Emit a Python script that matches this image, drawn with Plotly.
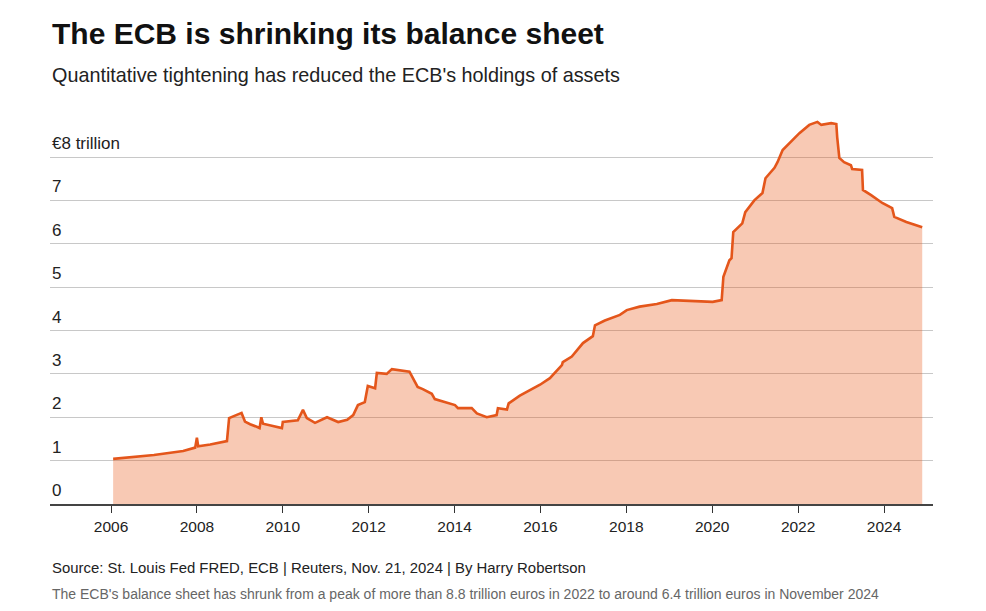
import plotly.graph_objects as go

# ECB balance sheet, € trillion (decimal years)
years = [2006.05, 2006.44, 2007.00, 2007.68, 2007.91, 2007.96, 2008.00, 2008.03, 2008.31, 2008.70,
         2008.75, 2008.93, 2009.04, 2009.12, 2009.24, 2009.42, 2009.46, 2009.50, 2009.54, 2009.77,
         2009.98, 2010.00, 2010.35, 2010.47, 2010.56, 2010.75, 2011.03, 2011.29, 2011.50, 2011.64,
         2011.75, 2011.91, 2011.98, 2012.15, 2012.19, 2012.42, 2012.54, 2012.95, 2013.02, 2013.14,
         2013.26, 2013.47, 2013.54, 2014.01, 2014.08, 2014.40, 2014.52, 2014.75, 2014.98, 2015.01,
         2015.22, 2015.26, 2015.52, 2015.99, 2016.22, 2016.50, 2016.52, 2016.73, 2016.99, 2017.22,
         2017.27, 2017.50, 2017.85, 2018.01, 2018.31, 2018.71, 2019.06, 2019.71, 2020.01, 2020.22,
         2020.26, 2020.40, 2020.45, 2020.49, 2020.70, 2020.77, 2020.98, 2021.17, 2021.24, 2021.45,
         2021.52, 2021.64, 2022.03, 2022.26, 2022.45, 2022.54, 2022.77, 2022.89, 2022.91, 2022.96,
         2023.07, 2023.23, 2023.26, 2023.49, 2023.51, 2023.70, 2023.89, 2023.96, 2024.19, 2024.24,
         2024.52, 2024.75, 2024.89]
assets = [1.04, 1.07, 1.13, 1.22, 1.28, 1.30, 1.53, 1.33, 1.37, 1.45,
          1.98, 2.05, 2.10, 1.90, 1.84, 1.77, 1.75, 2.00, 1.85, 1.80,
          1.75, 1.89, 1.93, 2.17, 1.98, 1.87, 2.00, 1.89, 1.94, 2.05,
          2.28, 2.35, 2.72, 2.67, 3.02, 3.00, 3.11, 3.05, 2.93, 2.70,
          2.65, 2.54, 2.42, 2.28, 2.21, 2.21, 2.09, 2.00, 2.05, 2.21,
          2.18, 2.32, 2.50, 2.75, 2.90, 3.20, 3.27, 3.40, 3.71, 3.87,
          4.12, 4.23, 4.36, 4.47, 4.55, 4.61, 4.70, 4.68, 4.66, 4.70,
          5.24, 5.62, 5.67, 6.27, 6.47, 6.73, 7.00, 7.17, 7.51, 7.75,
          7.88, 8.16, 8.55, 8.74, 8.81, 8.74, 8.78, 8.76, 8.46, 7.98,
          7.88, 7.81, 7.72, 7.70, 7.24, 7.12, 7.00, 6.94, 6.82, 6.62,
          6.50, 6.43, 6.38]

x_ticks = [2006, 2008, 2010, 2012, 2014, 2016, 2018, 2020, 2022, 2024]
y_ticks = [0, 1, 2, 3, 4, 5, 6, 7, 8]
y_tick_labels = ["0", "1", "2", "3", "4", "5", "6", "7", "€8 trillion"]

title = "The ECB is shrinking its balance sheet"
subtitle = "Quantitative tightening has reduced the ECB's holdings of assets"
source = "Source: St. Louis Fed FRED, ECB | Reuters, Nov. 21, 2024 | By Harry Robertson"
note = ("The ECB's balance sheet has shrunk from a peak of more than 8.8 trillion euros in 2022 "
        "to around 6.4 trillion euros in November 2024")

W, H = 986, 611
PLOT_TOP, PLOT_BOTTOM = 110, 504
PLOT_LEFT, PLOT_RIGHT = 50, 933
PX_PER_UNIT = 43.375
PX_PER_YEAR = 42.94


def paper_y(py):
    return (PLOT_BOTTOM - py) / (PLOT_BOTTOM - PLOT_TOP)


FONT = "Liberation Sans, Arial, Helvetica, sans-serif"

fig = go.Figure()
fig.add_trace(go.Scatter(
    x=years, y=assets, mode="lines",
    line=dict(color="#e4561b", width=2.6, shape="linear"),
    fill="tozeroy", fillcolor="rgba(232,88,22,0.32)",
    hoverinfo="x+y", showlegend=False,
))

annotations = []
for v, lab in zip(y_ticks, y_tick_labels):
    annotations.append(dict(
        x=0, xref="paper", y=v, yref="y", text=lab, showarrow=False,
        xanchor="left", yanchor="bottom", yshift=2,
        font=dict(family=FONT, size=17, color="#222222"),
    ))

annotations += [
    dict(x=0, xref="paper", y=paper_y(33), yref="paper", text="<b>" + title + "</b>",
         showarrow=False, xanchor="left", yanchor="middle",
         font=dict(family=FONT, size=30, color="#111111")),
    dict(x=0, xref="paper", y=paper_y(75), yref="paper", text=subtitle,
         showarrow=False, xanchor="left", yanchor="middle",
         font=dict(family=FONT, size=19.8, color="#222222")),
    dict(x=0, xref="paper", y=paper_y(568), yref="paper", text=source,
         showarrow=False, xanchor="left", yanchor="middle",
         font=dict(family=FONT, size=14.9, color="#222222")),
    dict(x=0, xref="paper", y=paper_y(594), yref="paper", text=note,
         showarrow=False, xanchor="left", yanchor="middle",
         font=dict(family=FONT, size=14, color="#666666")),
]

x_left = 2006 - (111 - PLOT_LEFT) / PX_PER_YEAR
x_right = 2024 + (PLOT_RIGHT - 884) / PX_PER_YEAR
y_top = (PLOT_BOTTOM - PLOT_TOP) / PX_PER_UNIT

fig.update_layout(
    width=W, height=H,
    margin=dict(l=PLOT_LEFT, r=W - PLOT_RIGHT, t=PLOT_TOP, b=H - PLOT_BOTTOM, pad=0),
    paper_bgcolor="white", plot_bgcolor="white",
    font=dict(family=FONT, color="#222222"),
    annotations=annotations,
    xaxis=dict(
        range=[x_left, x_right], tickmode="array", tickvals=x_ticks,
        ticktext=[str(t) for t in x_ticks],
        showgrid=False, zeroline=False,
        showline=True, linecolor="#444444", linewidth=2,
        ticks="outside", ticklen=7, tickwidth=1, tickcolor="#333333",
        tickfont=dict(family=FONT, size=15.5, color="#222222"),
        fixedrange=True,
    ),
    yaxis=dict(
        range=[0, y_top], tickmode="array", tickvals=y_ticks[1:],
        showticklabels=False, showgrid=True, gridcolor="#c8c8c8", gridwidth=1,
        zeroline=False, showline=False, fixedrange=True,
    ),
)

fig.write_html("out.html")
